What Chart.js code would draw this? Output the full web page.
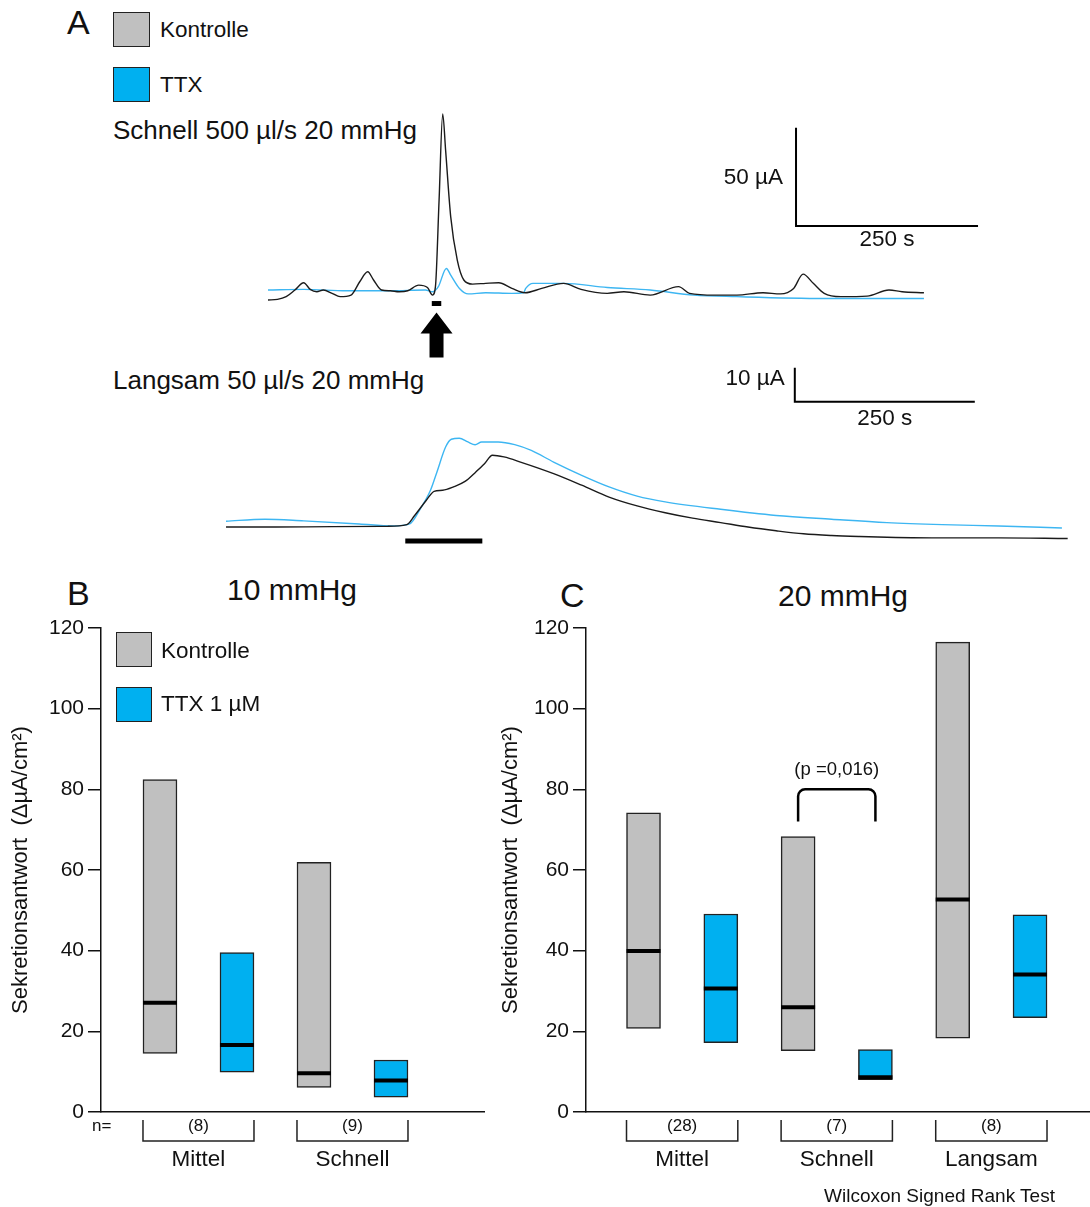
<!DOCTYPE html>
<html lang="de">
<head>
<meta charset="utf-8">
<title>Sekretionsantwort: Kontrolle und TTX</title>
<script src="https://cdn.jsdelivr.net/npm/chart.js@4.4.1/dist/chart.umd.min.js"></script>
<style>
  body { margin: 0; background: #fff; }
  #figur { position: relative; width: 1090px; height: 1207px; font-family: 'Liberation Sans', Arial, sans-serif; color: #111; }
  #figur canvas { position: absolute; }
  .t { position: absolute; white-space: nowrap; line-height: 1; }
  .mitte { transform: translateX(-50%); }
  .box { position: absolute; box-sizing: border-box; border: 1.5px solid #222; }
</style>
</head>
<body>
<div id="figur">
  <!-- A: Stromspuren -->
  <div class="t" style="left:67px; top:5px; font-size:34px;">A</div>
  <div class="box" style="left:113px; top:12px; width:37px; height:35px; background:#c0c0c0;"></div>
  <div class="t" style="left:160px; top:19px; font-size:22.5px;">Kontrolle</div>
  <div class="box" style="left:113px; top:67px; width:37px; height:35px; background:#00b0f0;"></div>
  <div class="t" style="left:160px; top:74px; font-size:22.5px;">TTX</div>
  <div class="t" style="left:113px; top:117px; font-size:26px;">Schnell 500 µl/s 20 mmHg</div>
  <div class="t" style="left:113px; top:367px; font-size:26px;">Langsam 50 µl/s 20 mmHg</div>
  <canvas id="spurSchnell" width="1090" height="260" style="left:0; top:100px;"></canvas>
  <canvas id="spurLangsam" width="1090" height="200" style="left:0; top:360px;"></canvas>

  <!-- B: 10 mmHg -->
  <div class="t" style="left:67px; top:576px; font-size:34px;">B</div>
  <div class="t mitte" style="left:292px; top:575px; font-size:30px;">10 mmHg</div>
  <canvas id="panelB" width="490" height="647" style="left:0; top:560px;"></canvas>
  <div class="box" style="left:116px; top:632px; width:36px; height:35px; background:#c0c0c0;"></div>
  <div class="t" style="left:161px; top:640px; font-size:22.5px;">Kontrolle</div>
  <div class="box" style="left:116px; top:687px; width:36px; height:35px; background:#00b0f0;"></div>
  <div class="t" style="left:161px; top:693px; font-size:22.5px;">TTX 1 µM</div>

  <!-- C: 20 mmHg -->
  <div class="t" style="left:560px; top:578px; font-size:34px;">C</div>
  <div class="t mitte" style="left:843px; top:581px; font-size:30px;">20 mmHg</div>
  <canvas id="panelC" width="600" height="647" style="left:490px; top:560px;"></canvas>
  <div class="t" style="left:824px; top:1186px; font-size:19px;">Wilcoxon Signed Rank Test</div>
</div>

<script>
// ---- Spuren (Zeit in s, Strom in µA) ----
// schneller Reiz, 500 µl/s
var zeitSchnellKontrolle = [0, 13, 25, 37, 49, 58, 67, 76, 88, 99, 114, 126, 137, 145, 156, 168, 180, 192, 207, 219, 226, 230, 235, 240, 244, 251, 260, 269, 281, 299, 317, 335, 353, 376, 406, 430, 466, 489, 525, 564, 579, 614, 644, 680, 704, 722, 735, 749, 764, 787, 823, 853, 871, 901];
var stromSchnellKontrolle = [0, 0.3, 1.7, 5.1, 8.8, 5.4, 4.2, 5.1, 3.4, 1.7, 2.5, 9.3, 14.4, 10.2, 5.1, 4.7, 4.2, 4.7, 7.6, 6.4, 2.5, 6.8, 50.8, 94.9, 76.3, 42.4, 20.3, 10.2, 8.1, 8.5, 8.8, 5.9, 3.7, 5.9, 8.5, 5.4, 3.4, 4.2, 2.5, 6.8, 3.4, 2.5, 2.5, 3.7, 3.1, 5.9, 13.2, 8.5, 3.4, 1.7, 2.0, 5.1, 4.2, 3.7];
var zeitSchnellTTX = [0, 49, 108, 143, 168, 216, 226, 234, 245, 251, 263, 275, 299, 335, 351, 354, 364, 406, 466, 525, 585, 644, 764, 901];
var stromSchnellTTX = [5.1, 5.4, 4.7, 4.7, 4.7, 5.1, 4.2, 6.8, 16.1, 12.7, 5.9, 3.1, 3.7, 3.4, 3.7, 5.9, 8.5, 8.5, 6.4, 5.1, 2.5, 1.7, 0.8, 0.8];
var reizSchnell = [225, 238];

// langsamer Reiz, 50 µl/s
var zeitLangsamKontrolle = [0, 69, 147, 224, 251, 262, 278, 289, 301, 316, 332, 347, 359, 370, 386, 409, 455, 494, 532, 571, 610, 648, 687, 725, 764, 802, 841, 880, 918, 995, 1073, 1169];
var stromLangsamKontrolle = [0, 0, 0.1, 0.2, 0.7, 3.4, 7.8, 10.5, 10.8, 11.8, 13.4, 16.2, 18.6, 21.1, 20.6, 19.1, 15.7, 12.3, 8.8, 6.2, 4.2, 2.6, 1.3, 0, -1.1, -2.0, -2.5, -2.8, -3.0, -3.2, -3.2, -3.4];
var zeitLangsamTTX = [0, 54, 108, 185, 231, 255, 270, 284, 293, 305, 313, 324, 336, 346, 355, 378, 401, 424, 455, 494, 532, 571, 610, 687, 764, 841, 918, 995, 1073, 1161];
var stromLangsamTTX = [1.7, 2.3, 1.8, 0.9, 0.3, 0.9, 5.4, 10.8, 16.2, 23.5, 25.8, 26.1, 25.0, 24.2, 25.0, 25.0, 24.2, 22.5, 19.1, 15.2, 11.8, 9.1, 7.4, 5.2, 3.4, 2.3, 1.3, 0.7, 0.3, -0.3];
var reizLangsam = [249, 356];

// ---- Sekretionsantwort (ΔµA/cm²): Minimum, Maximum, Median ----
var gruppenB = ['Mittel', 'Schnell'];
var nB = [8, 9];
var kontrolleMinB = [14.5, 6.1];
var kontrolleMaxB = [82.4, 61.9];
var kontrolleMedianB = [27.1, 9.6];
var ttxMinB = [9.9, 3.7];
var ttxMaxB = [39.5, 12.9];
var ttxMedianB = [16.6, 7.8];

var gruppenC = ['Mittel', 'Schnell', 'Langsam'];
var nC = [28, 7, 8];
var kontrolleMinC = [20.7, 15.2, 18.3];
var kontrolleMaxC = [74.2, 68.3, 116.5];
var kontrolleMedianC = [39.9, 26.0, 52.7];
var ttxMinC = [17.2, 8.0, 23.4];
var ttxMaxC = [49.1, 15.5, 48.9];
var ttxMedianC = [30.6, 8.6, 34.1];

var yTicks = [0, 20, 40, 60, 80, 100, 120];

var SCHRIFT = "'Liberation Sans', Arial, sans-serif";
var SCHWARZ = '#1b1b1b', GRAU = '#c0c0c0', BLAU = '#00b0f0', BLAU_SPUR = '#3db6f2';

Chart.defaults.font.family = SCHRIFT;
Chart.defaults.color = '#111';
Chart.defaults.animation = false;
Chart.defaults.plugins.legend.display = false;
Chart.defaults.plugins.tooltip.enabled = false;

function punkte(zeit, werte) {
    return zeit.map(function (t, i) { return { x: t, y: werte[i] }; });
}

// Skalenbalken (µA / s) und Reizpfeil
var skalaPlugin = {
    id: 'skala',
    afterDatasetsDraw: function (chart, args, opt) {
        var ctx = chart.ctx, x = chart.scales.x, y = chart.scales.y;
        var x0 = x.getPixelForValue(opt.t0), x1 = x.getPixelForValue(opt.t0 + opt.dt);
        var y0 = y.getPixelForValue(opt.v0), y1 = y.getPixelForValue(opt.v0 + opt.dv);
        ctx.save();
        ctx.strokeStyle = '#000';
        ctx.lineWidth = 2;
        ctx.beginPath();
        ctx.moveTo(x0, y1);
        ctx.lineTo(x0, y0);
        ctx.lineTo(x1, y0);
        ctx.stroke();
        ctx.fillStyle = '#111';
        ctx.font = '22.5px ' + SCHRIFT;
        ctx.textBaseline = 'middle';
        ctx.textAlign = 'right';
        ctx.fillText(opt.vText, x0 - opt.vAbstand, y1 + opt.vDy);
        ctx.textAlign = 'center';
        ctx.fillText(opt.tText, (x0 + x1) / 2, y0 + opt.tDy);
        if (opt.pfeil) {
            var px = x.getPixelForValue(opt.pfeil.t), py = y.getPixelForValue(opt.pfeil.v) + 9;
            ctx.fillStyle = '#000';
            ctx.beginPath();
            ctx.moveTo(px, py);
            ctx.lineTo(px + 16, py + 21);
            ctx.lineTo(px + 7, py + 21);
            ctx.lineTo(px + 7, py + 45);
            ctx.lineTo(px - 7, py + 45);
            ctx.lineTo(px - 7, py + 21);
            ctx.lineTo(px - 16, py + 21);
            ctx.closePath();
            ctx.fill();
        }
        ctx.restore();
    }
};

function spur(id, kontrolle, ttx, reiz, bereich, skala) {
    return new Chart(document.getElementById(id), {
        type: 'line',
        data: {
            datasets: [
                { data: kontrolle, borderColor: SCHWARZ, borderWidth: 1.4 },
                { data: ttx, borderColor: BLAU_SPUR, borderWidth: 1.4 },
                { data: reiz, borderColor: '#000', borderWidth: 5, cubicInterpolationMode: 'default' }
            ]
        },
        options: {
            responsive: false,
            elements: {
                point: { radius: 0 },
                line: { cubicInterpolationMode: 'monotone', borderCapStyle: 'butt' }
            },
            layout: { padding: 0, autoPadding: false },
            scales: {
                x: { type: 'linear', display: false, min: bereich.tMin, max: bereich.tMax },
                y: { type: 'linear', display: false, min: bereich.vMin, max: bereich.vMax }
            },
            plugins: { skala: skala }
        },
        plugins: [skalaPlugin]
    });
}

spur('spurSchnell',
    punkte(zeitSchnellKontrolle, stromSchnellKontrolle),
    punkte(zeitSchnellTTX, stromSchnellTTX),
    punkte(reizSchnell, [-1.8, -1.8]),
    { tMin: -368.1, tMax: 1129.1, vMin: -30.6, vMax: 102.0 },
    { t0: 725.3, dt: 250, v0: 37.8, dv: 50, vText: '50 µA', tText: '250 s', vAbstand: 13, vDy: 50, tDy: 14,
      pfeil: { t: 231.5, v: -1.8 } });

spur('spurLangsam',
    punkte(zeitLangsamKontrolle, stromLangsamKontrolle),
    punkte(zeitLangsamTTX, stromLangsamTTX),
    punkte(reizLangsam, [-4.1, -4.1]),
    { tMin: -313.9, tMax: 1200, vMin: -9.7, vMax: 49.1 },
    { t0: 790, dt: 250, v0: 36.8, dv: 10, vText: '10 µA', tText: '250 s', vAbstand: 10, vDy: 11, tDy: 17 });

// Klammern, n und Gruppennamen unter der x-Achse
var gruppenPlugin = {
    id: 'gruppen',
    afterDraw: function (chart, args, opt) {
        var ctx = chart.ctx, x = chart.scales.x, y0 = chart.chartArea.bottom;
        var halb = opt.breite / 2;
        ctx.save();
        ctx.strokeStyle = '#222';
        ctx.lineWidth = 1.5;
        ctx.fillStyle = '#111';
        ctx.textBaseline = 'middle';
        ctx.textAlign = 'center';
        opt.namen.forEach(function (name, i) {
            var links = x.getPixelForValue(2 * i + 1) - halb;
            var rechts = x.getPixelForValue(2 * i + 2) + halb;
            var mitte = (links + rechts) / 2;
            ctx.beginPath();
            ctx.moveTo(links, y0 + 8);
            ctx.lineTo(links, y0 + 29);
            ctx.lineTo(rechts, y0 + 29);
            ctx.lineTo(rechts, y0 + 8);
            ctx.stroke();
            ctx.font = '17px ' + SCHRIFT;
            ctx.fillText('(' + opt.n[i] + ')', mitte, y0 + 14);
            ctx.font = '22.5px ' + SCHRIFT;
            ctx.fillText(name, mitte, y0 + 48);
        });
        if (opt.nZeichen) {
            ctx.textAlign = 'left';
            ctx.font = '17px ' + SCHRIFT;
            ctx.fillText('n=', chart.chartArea.left - 9, y0 + 14);
        }
        ctx.restore();
    }
};

// Signifikanzklammer mit p-Wert
var signifikanzPlugin = {
    id: 'signifikanz',
    afterDatasetsDraw: function (chart, args, opt) {
        if (!opt.text) return;
        var ctx = chart.ctx, x = chart.scales.x, y = chart.scales.y;
        var xa = x.getPixelForValue(opt.von), xb = x.getPixelForValue(opt.bis);
        var yo = y.getPixelForValue(opt.oben), yu = y.getPixelForValue(opt.unten);
        ctx.save();
        ctx.strokeStyle = '#000';
        ctx.lineWidth = 2.5;
        ctx.beginPath();
        ctx.moveTo(xa, yu);
        ctx.arcTo(xa, yo, xb, yo, 7);
        ctx.arcTo(xb, yo, xb, yu, 7);
        ctx.lineTo(xb, yu);
        ctx.stroke();
        ctx.fillStyle = '#111';
        ctx.font = '18.5px ' + SCHRIFT;
        ctx.textAlign = 'center';
        ctx.textBaseline = 'middle';
        ctx.fillText(opt.text, (xa + xb) / 2, y.getPixelForValue(opt.textWert));
        ctx.restore();
    }
};

function boxPanel(id, gruppen, n, kMin, kMax, kMed, tMin, tMax, tMed, xBereich, achse, extra) {
    var kx = gruppen.map(function (g, i) { return 2 * i + 1; });
    var tx = gruppen.map(function (g, i) { return 2 * i + 2; });
    var balken = { type: 'bar', barThickness: 34, borderWidth: 1.5, borderColor: '#222', borderSkipped: false, grouped: false, order: 1 };
    var median = kx.map(function (x, i) { return { x: x, y: kMed[i] }; })
        .concat(tx.map(function (x, i) { return { x: x, y: tMed[i] }; }));

    return new Chart(document.getElementById(id), {
        type: 'bar',
        data: {
            datasets: [
                Object.assign({ label: 'Kontrolle', backgroundColor: GRAU,
                    data: kx.map(function (x, i) { return { x: x, y: [kMin[i], kMax[i]] }; }) }, balken),
                Object.assign({ label: 'TTX', backgroundColor: BLAU,
                    data: tx.map(function (x, i) { return { x: x, y: [tMin[i], tMax[i]] }; }) }, balken),
                { type: 'line', label: 'Median', data: median, showLine: false, order: 0,
                  pointStyle: 'line', pointRadius: 17, pointHoverRadius: 17,
                  pointBorderWidth: 4, pointBorderColor: '#000' }
            ]
        },
        options: {
            responsive: false,
            layout: { padding: { top: 68, bottom: 95, left: 0, right: achse.rechts }, autoPadding: false },
            scales: {
                x: {
                    type: 'linear', min: xBereich[0], max: xBereich[1], offset: false,
                    ticks: { display: false },
                    grid: { display: false },
                    border: { display: true, color: '#111', width: 1.5 },
                    afterFit: function (s) { s.height = 0; }
                },
                y: {
                    min: 0, max: 120,
                    afterBuildTicks: function (s) { s.ticks = yTicks.map(function (v) { return { value: v }; }); },
                    ticks: { font: { size: 21 }, color: '#111', padding: 4 },
                    grid: { display: true, drawOnChartArea: false, drawTicks: true, tickLength: 13, color: '#111', lineWidth: 1.5 },
                    border: { display: true, color: '#111', width: 1.5 },
                    title: { display: true, text: 'Sekretionsantwort  (ΔµA/cm²)', font: { size: 22 }, color: '#111', padding: { top: 8, bottom: 0 } },
                    afterFit: function (s) { s.width = achse.breite; }
                }
            },
            plugins: {
                gruppen: { namen: gruppen, n: n, breite: 34, nZeichen: extra.nZeichen },
                signifikanz: extra.signifikanz || {}
            }
        },
        plugins: [gruppenPlugin, signifikanzPlugin]
    });
}

boxPanel('panelB', gruppenB, nB,
    kontrolleMinB, kontrolleMaxB, kontrolleMedianB, ttxMinB, ttxMaxB, ttxMedianB,
    [0.234, 5.208], { breite: 101, rechts: 6 }, { nZeichen: true });

boxPanel('panelC', gruppenC, nC,
    kontrolleMinC, kontrolleMaxC, kontrolleMedianC, ttxMinC, ttxMaxC, ttxMedianC,
    [0.256, 6.776], { breite: 96, rechts: 0 },
    { nZeichen: false, signifikanz: { von: 3, bis: 4, oben: 80, unten: 72, text: '(p =0,016)', textWert: 84.8 } });
</script>
</body>
</html>
